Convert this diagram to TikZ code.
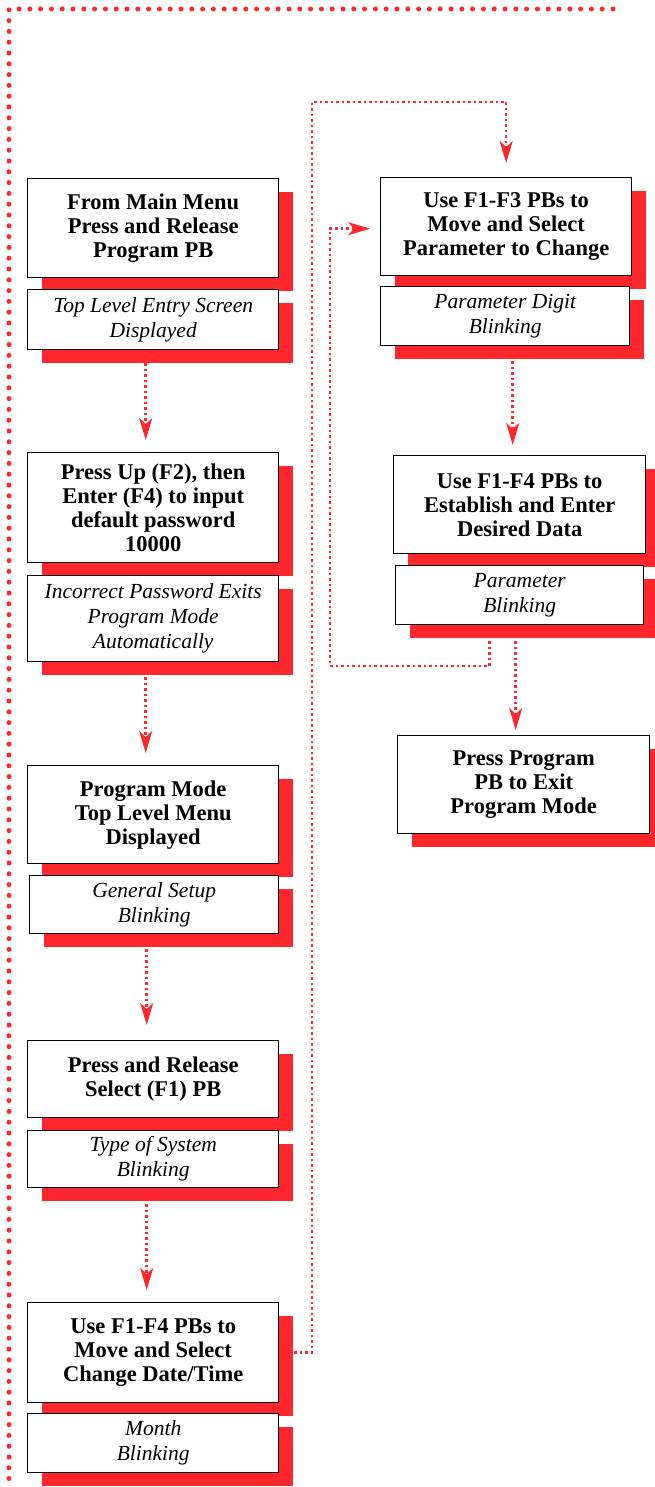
\documentclass[tikz,border=0pt]{standalone}
\usepackage{fontspec}
\setmainfont{Liberation Serif}
\usetikzlibrary{arrows.meta}
\definecolor{fred}{RGB}{255,38,44}
\begin{document}
\begin{tikzpicture}[x=1pt,y=-1pt,
  shadowed/.style={preaction={fill=fred,transform canvas={shift={(14pt,-13pt)}}}},
  mainbox/.style={shadowed,draw=black,fill=white,line width=1.4pt,anchor=north west,inner sep=0pt,
    align=center,font=\fontsize{22.5}{24}\selectfont\bfseries},
  subbox/.style={shadowed,draw=black,fill=white,line width=1.4pt,anchor=north west,inner sep=0pt,
    align=center,font=\fontsize{21.5}{25}\selectfont\itshape},
  conn/.style={draw=fred,line width=2.5pt,dash pattern=on 2.5pt off 3pt},
  arr/.style={conn,-{Stealth[length=22pt,width=13pt,inset=6pt,fill=fred]}},
  frame/.style={draw=fred,line width=5pt,line cap=round,dash pattern=on 0pt off 10.8pt}]
\useasboundingbox (0,0) rectangle (655,1487);

% border
\coordinate (k1) at (613,9);
\coordinate (k0) at (9,9);
\coordinate (k2) at (9,1492);
\draw[frame] (k1) -- (k0) -- (k2);

% left column
\node[mainbox,minimum width=251pt,minimum height=99pt] (b1) at (27,178) {From Main Menu\\Press and Release\\Program PB};
\node[subbox,minimum width=251pt,minimum height=60pt] (s1) at (27,289) {Top Level Entry Screen\\Displayed};
\node[mainbox,minimum width=251pt,minimum height=110pt] (b2) at (27,452) {Press Up (F2), then\\Enter (F4) to input\\default password\\10000};
\node[subbox,minimum width=251pt,minimum height=86pt] (s2) at (27,575) {Incorrect Password Exits\\Program Mode\\Automatically};
\node[mainbox,minimum width=251pt,minimum height=98pt] (b3) at (27,765) {Program Mode\\Top Level Menu\\Displayed};
\node[subbox,minimum width=249pt,minimum height=58pt] (s3) at (29,875) {General Setup\\Blinking};
\node[mainbox,minimum width=251pt,minimum height=77pt] (b4) at (27,1040) {Press and Release\\Select (F1) PB};
\node[subbox,minimum width=251pt,minimum height=57pt] (s4) at (27,1130) {Type of System\\Blinking};
\node[mainbox,minimum width=251pt,minimum height=100pt] (b5) at (27,1302) {Use F1-F4 PBs to\\Move and Select\\Change Date/Time};
\node[subbox,minimum width=251pt,minimum height=59pt] (s5) at (27,1413) {Month\\Blinking};

% right column
\node[mainbox,minimum width=251pt,minimum height=98pt] (b6) at (380,177) {Use F1-F3 PBs to\\Move and Select\\Parameter to Change};
\node[subbox,minimum width=249pt,minimum height=59pt] (s6) at (380,286) {Parameter Digit\\Blinking};
\node[mainbox,minimum width=252pt,minimum height=98pt] (b7) at (393,455) {Use F1-F4 PBs to\\Establish and Enter\\Desired Data};
\node[subbox,minimum width=248pt,minimum height=59pt] (s7) at (395,565) {Parameter\\Blinking};
\node[mainbox,minimum width=252pt,minimum height=98pt] (b8) at (397,735) {Press Program\\PB to Exit\\Program Mode};

% left arrows
\draw[arr] ([xshift=-7.5pt,yshift=-13pt]s1.south) -- ([xshift=-7.5pt,yshift=12pt]b2.north);
\draw[arr] ([xshift=-7.5pt,yshift=-15pt]s2.south) -- ([xshift=-7.5pt,yshift=12pt]b3.north);
\draw[arr] ([xshift=-7.5pt,yshift=-15pt]s3.south) -- ([xshift=-6.5pt,yshift=15pt]b4.north);
\draw[arr] ([xshift=-6.5pt,yshift=-16pt]s4.south) -- ([xshift=-6.5pt,yshift=12pt]b5.north);

% connector to right column
\coordinate (c1) at (312,102);
\draw[arr] ([xshift=15pt]b5.east) -| (c1) -| ([yshift=14pt]b6.north);

% right arrows
\draw[arr] ([xshift=7.5pt,yshift=-15pt]s6.south) -- ([xshift=-7pt,yshift=10pt]b7.north);
\draw[arr] ([xshift=-4pt,yshift=-16pt]s7.south) -- ([xshift=-8pt,yshift=5pt]b8.north);

% loop back
\coordinate (l1) at (330,666);
\draw[arr] ([xshift=-30pt,yshift=-16pt]s7.south) |- (l1) |- ([xshift=-10pt,yshift=-2pt]b6.west);
\end{tikzpicture}
\end{document}
